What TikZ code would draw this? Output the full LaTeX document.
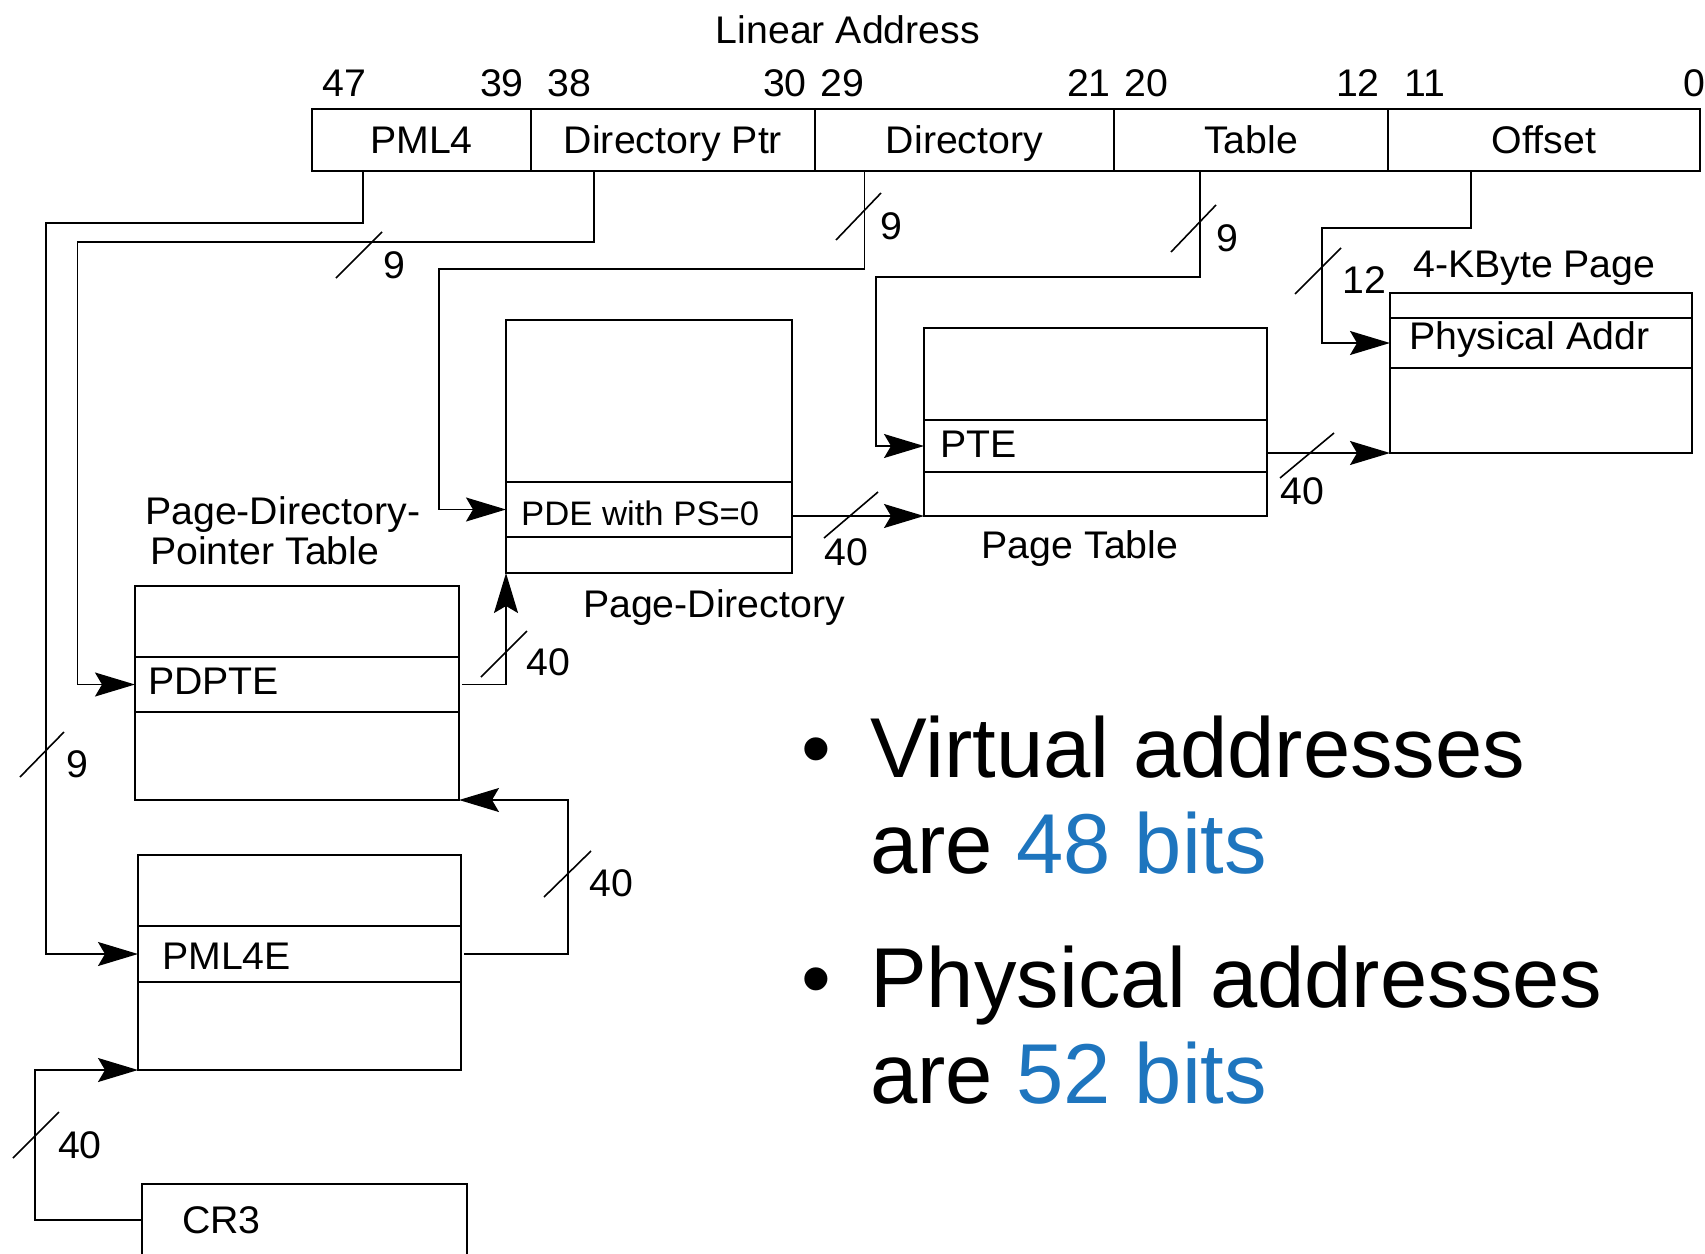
\documentclass[tikz,border=0pt]{standalone}
\usepackage{fontspec}
\setmainfont{Liberation Sans}
\newfontfamily\diagfam[FakeStretch=1.02]{Liberation Sans}
\usetikzlibrary{arrows.meta, positioning}

\newcommand\diagfont{\diagfam\fontsize{38.5}{42}\selectfont}
\newcommand\smallfont{\diagfam\fontsize{34}{38}\selectfont}
\newcommand\bigfont{\fontsize{85}{96}\selectfont}
\definecolor{accent}{RGB}{30,117,190}

\tikzset{
  tbl/.style={draw, line width=2.6pt, inner sep=0pt, outer sep=0pt},
  ent/.style={draw, line width=1.5pt, inner sep=0pt, outer sep=0pt},
  fld/.style={draw, line width=1.5pt, minimum height=62pt, inner sep=0pt, outer sep=0pt,
    font=\diagfont, text height=27pt, text depth=1pt},
  lbl/.style={font=\diagfont, inner sep=0pt},
  bus/.style={line width=1.6pt},
  arr/.style={bus, -{Stealth[length=40pt, width=24pt, inset=7pt]}},
}

\begin{document}
\begin{tikzpicture}[x=1pt,y=-1pt]
\useasboundingbox (0,0) rectangle (1705,1253);

% linear address
\node[lbl, anchor=base] at (848,43) {Linear Address};
\node[fld, minimum width=219pt] (fpml4) at (421.5,140) {PML4};
\node[fld, minimum width=284pt, right=0pt of fpml4] (fdirptr) {Directory Ptr};
\node[fld, minimum width=299pt, right=0pt of fdirptr] (fdir) {Directory};
\node[fld, minimum width=274pt, right=0pt of fdir] (ftable) {Table};
\node[fld, minimum width=312pt, right=0pt of ftable] (foffset) {Offset};
\draw[line width=2.6pt] (fpml4.north west) rectangle (foffset.south east);
\foreach \n/\x/\a in {47/322/west, 39/524/east, 38/547/west, 30/807/east, 29/820/west,
  21/1111/east, 20/1124/west, 12/1380/east, 11/1404/west, 0/1706/east}
  \node[lbl, anchor=base \a] at (\x,96) {\n};

% tables
\node[ent, minimum width=302pt, minimum height=50pt] (paddr) at (1541,343) {};
\node[tbl, minimum width=302pt, minimum height=160pt] (page) at (1541,373) {};
\node[lbl, anchor=base west] at ([xshift=19pt,yshift=-6pt]paddr.west) {Physical Addr};
\node[lbl, anchor=base west] at (1413,277) {4-KByte Page};

\node[ent, minimum width=343pt, minimum height=52pt] (pte) at (1095.5,446) {};
\node[tbl, minimum width=343pt, minimum height=188pt] (pt) at (1095.5,422) {};
\node[lbl, anchor=base west] at ([xshift=16pt,yshift=-11pt]pte.west) {PTE};
\node[lbl, anchor=base] at (1080,558) {Page Table};

\node[ent, minimum width=286pt, minimum height=55pt] (pde) at (649,509.5) {};
\node[tbl, minimum width=286pt, minimum height=253pt] (pd) at (649,446.5) {};
\node[lbl, font=\smallfont, anchor=base west] at ([xshift=15pt,yshift=-16pt]pde.west) {PDE with PS=0};
\node[lbl, anchor=base] at (714,617) {Page-Directory};

\node[ent, minimum width=324pt, minimum height=55pt] (pdpte) at (297,684.5) {};
\node[tbl, minimum width=324pt, minimum height=214pt] (pdpt) at (297,693) {};
\node[lbl, anchor=base west] at ([xshift=13pt,yshift=-10pt]pdpte.west) {PDPTE};
\node[lbl, anchor=base west] at (145,524) {Page-Directory-};
\node[lbl, anchor=base west] at (150,564) {Pointer Table};

\node[ent, minimum width=323pt, minimum height=56pt] (pml4e) at (299.5,954) {};
\node[tbl, minimum width=323pt, minimum height=215pt] (pml4t) at (299.5,962.5) {};
\node[lbl, anchor=base west] at ([xshift=24pt,yshift=-15pt]pml4e.west) {PML4E};

\node[tbl, minimum width=325pt, minimum height=72pt] (cr3) at (304.5,1220) {};
\node[lbl, anchor=base west] at ([xshift=40pt,yshift=-13pt]cr3.west) {CR3};

% index fields
\draw[arr] ([xshift=-58.5pt]fpml4.south) |- (46,223) |- (pml4e.west);
\draw[arr] ([xshift=-79pt]fdirptr.south) |- (77.5,242) |- (pdpte.west);
\draw[arr] ([xshift=-100pt]fdir.south) |- (439,269) |- (pde.west);
\draw[arr] ([xshift=-51pt]ftable.south) |- (876,277) |- (pte.west);
\draw[arr] ([xshift=-73pt]foffset.south) |- (1322,228) |- (paddr.west);

% base addresses
\draw[arr] (cr3.west) -- ++(-107,0) |- (pml4t.south west);
\draw[arr] ([xshift=3pt]pml4e.east) -- ++(104,0) |- (pdpt.south east);
\draw[arr] ([xshift=3pt]pdpte.east) -| (pd.south west);
\draw[arr] (pde.east |- pt.south west) -- (pt.south west);
\draw[arr] (pte.east |- page.south west) -- (page.south west);

% bus widths
\draw[bus] (336,278) -- (382,232);
\draw[bus] (836,240) -- (881,193);
\draw[bus] (1171,252) -- (1216,205);
\draw[bus] (1295,294) -- (1341,248);
\draw[bus] (20,777) -- (64,732);
\draw[bus] (824,538) -- (878,492);
\draw[bus] (1280,478) -- (1334,433);
\draw[bus] (481,677) -- (527,631);
\draw[bus] (544,897) -- (591,851);
\draw[bus] (13,1158) -- (59,1112);
\foreach \n/\x/\y in {9/394/278, 9/891/239, 9/1227/251, 12/1364/293, 9/77/777,
  40/846/565, 40/1302/504, 40/548/675, 40/611/896, 40/80/1158}
  \node[lbl, anchor=base] at (\x,\y) {\n};

% notes
\node[font=\bigfont, inner sep=0pt, anchor=base] at (816,777) {•};
\node[font=\bigfont, inner sep=0pt, anchor=base west] at (870,777) {Virtual addresses};
\node[font=\bigfont, inner sep=0pt, anchor=base west] at (870,873) {are \textcolor{accent}{48 bits}};
\node[font=\bigfont, inner sep=0pt, anchor=base] at (816,1007) {•};
\node[font=\bigfont, inner sep=0pt, anchor=base west] at (870,1007) {Physical addresses};
\node[font=\bigfont, inner sep=0pt, anchor=base west] at (870,1103) {are \textcolor{accent}{52 bits}};
\end{tikzpicture}
\end{document}
